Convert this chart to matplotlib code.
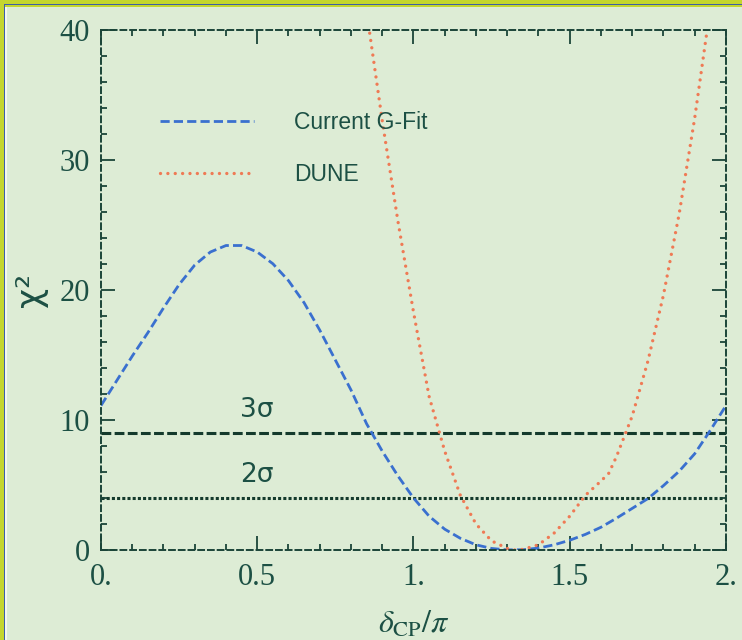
import matplotlib
matplotlib.use("Agg")
import matplotlib.pyplot as plt
from matplotlib.patches import Rectangle
from matplotlib.ticker import FixedLocator, FixedFormatter, MultipleLocator

# --- data -------------------------------------------------------------
delta_gfit = [0.00, 0.05, 0.10, 0.15, 0.20, 0.25, 0.30, 0.35, 0.40, 0.45,
              0.50, 0.55, 0.60, 0.65, 0.70, 0.75, 0.80, 0.85, 0.90, 0.95,
              1.00, 1.05, 1.10, 1.15, 1.20, 1.25, 1.30, 1.35, 1.40, 1.45,
              1.50, 1.55, 1.60, 1.65, 1.70, 1.75, 1.80, 1.85, 1.90, 1.95, 2.00]
chi2_gfit = [11.1, 13.0, 14.9, 16.7, 18.6, 20.4, 21.9, 22.9, 23.4, 23.4,
             22.9, 22.0, 20.7, 19.0, 16.9, 14.6, 12.3, 9.7, 7.6, 5.7,
             4.0, 2.6, 1.6, 0.9, 0.4, 0.12, 0.01, 0.02, 0.15, 0.4,
             0.75, 1.2, 1.75, 2.45, 3.2, 3.95, 4.95, 6.05, 7.4, 9.2, 11.1]

delta_dune = [0.85, 0.86, 0.90, 0.95, 1.00, 1.05, 1.10, 1.15, 1.20, 1.25,
              1.30, 1.325, 1.35, 1.40, 1.45, 1.50, 1.55, 1.60, 1.625, 1.65,
              1.70, 1.75, 1.80, 1.85, 1.90, 1.94, 1.95]
chi2_dune = [41.4, 39.7, 33.0, 25.3, 18.3, 11.8, 7.6, 4.2, 2.0, 0.7,
             0.12, 0.0, 0.05, 0.4, 1.3, 2.6, 4.2, 5.3, 5.9, 7.2,
             10.3, 14.5, 19.6, 25.8, 33.2, 40.0, 42.0]

series_names = ["Current G-Fit", "DUNE"]

sigma_levels = [9, 4]
sigma_labels = ["3σ", "2σ"]
sigma_label_x = 0.5

xtick_values = [0, 0.5, 1, 1.5, 2]
xtick_labels = ["0.", "0.5", "1.", "1.5", "2."]
ytick_values = [0, 10, 20, 30, 40]
ytick_labels = ["0", "10", "20", "30", "40"]

# --- style ------------------------------------------------------------
BG = "#ddecd5"
INK = "#1c5044"
FRAME = "#1b4538"
BLUE = "#3a70cf"
ORANGE = "#ef7a55"
DARK = "#143a2c"

plt.rcParams["mathtext.fontset"] = "stix"

fig = plt.figure(figsize=(7.42, 6.40), dpi=100, facecolor=BG)
ax = fig.add_axes([0.1361, 0.1406, 0.9784 - 0.1361, 0.9539 - 0.1406])
ax.set_facecolor(BG)

# curves
l_gfit, = ax.plot(delta_gfit, chi2_gfit, color=BLUE, lw=2.0,
                  linestyle=(0, (3.3, 1.5)), label=series_names[0])
l_dune, = ax.plot(delta_dune, chi2_dune, color=ORANGE, lw=2.4,
                  linestyle=(0, (0.01, 2.2)), dash_capstyle="round",
                  label=series_names[1])

# confidence levels
ax.axhline(sigma_levels[0], color=DARK, lw=2.2, linestyle=(0, (3.2, 1.1)), zorder=1.5)
ax.axhline(sigma_levels[1], color=DARK, lw=2.2, linestyle=(0, (1.0, 0.7)), zorder=1.5)
for lev, lab in zip(sigma_levels, sigma_labels):
    ax.annotate(lab, xy=(sigma_label_x, lev), xytext=(0, 16.5),
                textcoords="offset points", ha="center", va="center",
                fontsize=19, color=INK, family="DejaVu Sans")

ax.set_xlim(0, 2)
ax.set_ylim(0, 40)

# dashed frame
for sp in ax.spines.values():
    sp.set_color(FRAME)
    sp.set_linewidth(1.4)
    sp.set_linestyle((0, (3.0, 2.0)))

ax.xaxis.set_major_locator(FixedLocator(xtick_values))
ax.xaxis.set_major_formatter(FixedFormatter(xtick_labels))
ax.yaxis.set_major_locator(FixedLocator(ytick_values))
ax.yaxis.set_major_formatter(FixedFormatter(ytick_labels))
ax.xaxis.set_minor_locator(MultipleLocator(0.1))
ax.yaxis.set_minor_locator(MultipleLocator(2))
ax.tick_params(which="both", direction="in", top=True, right=True,
               color=FRAME, width=1.3)
ax.tick_params(which="major", length=10, labelsize=22, labelcolor=INK)
ax.tick_params(which="minor", length=4)
ax.tick_params(axis="x", pad=9)
ax.tick_params(axis="y", pad=8)
for t in ax.get_xticklabels() + ax.get_yticklabels():
    t.set_family("Liberation Serif")

ax.set_xlabel(r"$\delta_{\rm CP}/\pi$", fontsize=23, color=INK)
ax.xaxis.set_label_coords(0.5, -0.112)
ax.xaxis.label.set_va("top")
ax.set_ylabel("χ²", fontsize=25, color=INK, family="DejaVu Sans")
ax.yaxis.set_label_coords(-0.084, 0.5)

leg = ax.legend(handles=[l_gfit, l_dune], loc="upper left",
                bbox_to_anchor=(0.094, 0.844), frameon=False,
                borderpad=0, borderaxespad=0, handlelength=4.1,
                handletextpad=1.75, labelspacing=1.27,
                prop={"family": "Liberation Sans", "size": 16.5})
for txt in leg.get_texts():
    txt.set_color(INK)

# page border strips
fig.add_artist(Rectangle((0, 1 - 7.3 / 640), 1, 7.3 / 640, transform=fig.transFigure,
                         facecolor="#c4d62e", edgecolor="none"))
fig.add_artist(Rectangle((0, 1 - 5.3 / 640), 1, 1.3 / 640, transform=fig.transFigure,
                         facecolor="#3d5fa8", edgecolor="none"))
fig.add_artist(Rectangle((0, 0), 4.2 / 742, 1, transform=fig.transFigure,
                         facecolor="#c4d62e", edgecolor="none"))
fig.add_artist(Rectangle((4.2 / 742, 0), 1.2 / 742, 1 - 5.3 / 640, transform=fig.transFigure,
                         facecolor="#3d5fa8", edgecolor="none"))
fig.add_artist(Rectangle((5.4 / 742, 0), 1.4 / 742, 1 - 7.3 / 640, transform=fig.transFigure,
                         facecolor="#f4f8ee", edgecolor="none"))

fig.savefig("out.png", dpi=100, facecolor=BG)
